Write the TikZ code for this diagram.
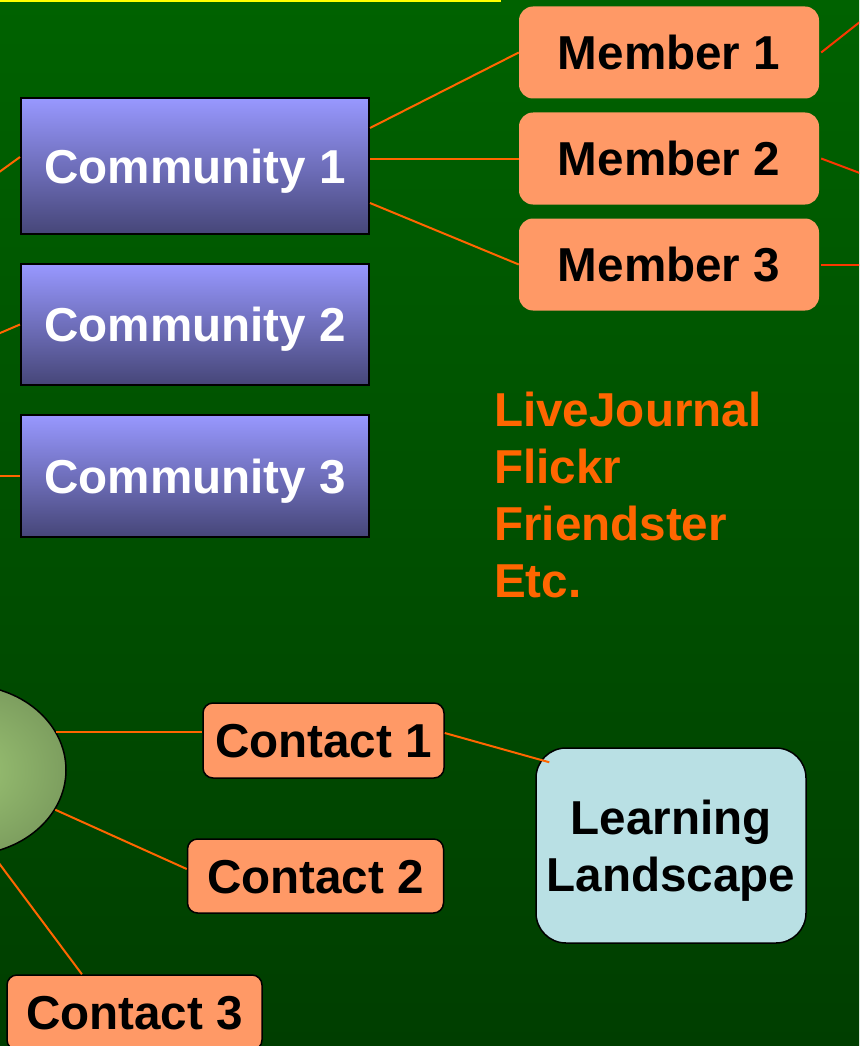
\documentclass[tikz,border=0pt]{standalone}
\usepackage{fontspec}
\setmainfont{Liberation Sans}
\usetikzlibrary{calc,shapes.geometric}
\definecolor{bgtop}{RGB}{0,98,0}
\definecolor{bgbot}{RGB}{0,62,0}
\definecolor{commtop}{RGB}{152,152,255}
\definecolor{commbot}{RGB}{70,70,120}
\definecolor{salmon}{RGB}{255,153,102}
\definecolor{llblue}{RGB}{185,224,228}
\definecolor{linkor}{RGB}{255,102,0}
\definecolor{linkred}{RGB}{250,55,0}
\definecolor{ellin}{RGB}{155,195,115}
\definecolor{ellout}{RGB}{95,122,75}
\definecolor{yel}{RGB}{255,255,0}
\pgfdeclareradialshading{ellshade}{\pgfpoint{0bp}{0bp}}{color(0bp)=(ellin); color(20bp)=(ellin!60!ellout); color(50bp)=(ellout)}
\begin{document}
\begin{tikzpicture}[x=1pt,y=-1pt,
  bigtext/.style={font=\fontsize{47.6}{57}\selectfont\bfseries},
  commbox/.style={bigtext, draw=black, line width=2pt, top color=commtop, bottom color=commbot,
    text=white, minimum width=348pt, inner sep=0pt, text height=34pt, text depth=0pt},
  memberbox/.style={bigtext, fill=salmon, rounded corners=14pt, text=black,
    minimum width=300pt, minimum height=92pt, inner sep=0pt, text height=34pt, text depth=0pt},
  contactbox/.style={bigtext, fill=salmon, draw=black, line width=1.5pt, rounded corners=10pt,
    text=black, inner sep=0pt, text height=34pt, text depth=0pt},
  llbox/.style={bigtext, fill=llblue, draw=black, line width=1.5pt, rounded corners=30pt,
    text=black, align=center, inner sep=0pt, minimum width=270pt, minimum height=195pt, text depth=0pt},
  hub/.style={ellipse, draw=black, line width=1.5pt, shading=ellshade,
    minimum width=200pt, minimum height=170pt, inner sep=0pt},
  link/.style={draw=linkor, line width=2pt},
  linkr/.style={draw=linkred, line width=2pt}
]
\clip (0,0) rectangle (859,1046);
\shade[top color=bgtop, bottom color=bgbot] (0,0) rectangle (859,1046);
\fill[yel] (0,0) rectangle (501,1.6);

% communities
\node[commbox, minimum height=136pt] (cm1) at (195,166) {Community 1};
\node[commbox, minimum height=121pt] (cm2) at (195,324.5) {Community 2};
\node[commbox, minimum height=122pt] (cm3) at (195,476) {Community 3};

% members
\node[memberbox] (m1) at (669,52.5) {Member 1};
\node[memberbox] (m2) at (669,158.5) {Member 2};
\node[memberbox] (m3) at (669,264.5) {Member 3};

% sites
\node[bigtext, text=linkor, align=left, anchor=north west, inner sep=0pt] (sites) at (494,392)
  {LiveJournal\\Flickr\\Friendster\\Etc.};

% hub and contacts
\node[hub] (hubn) at (-34,770) {};
\node[contactbox, minimum width=241pt, minimum height=75pt] (ct1) at (323.5,740.5) {Contact 1};
\node[contactbox, minimum width=256pt, minimum height=74pt] (ct2) at (315.5,876) {Contact 2};
\node[contactbox, minimum width=255pt, minimum height=75pt] (ct3) at (134.5,1012.5) {Contact 3};
\node[llbox] (ll) at (671,845.5) {Learning\\Landscape};

% free ends
\coordinate (in1) at (-20,186);
\coordinate (in2) at (-20,341.6);
\coordinate (in3) at (-20,476);
\coordinate (out1) at (875,10);
\coordinate (out2) at (885,182.5);
\coordinate (out3) at (885,264.5);

% connectors
\draw[link] (in1) -- ($(cm1.west)+(0,-9)$);
\draw[link] (in2) -- (cm2.west);
\draw[link] (in3) -- (cm3.west);
\draw[link] ($(cm1.east)+(0,-38)$) -- (m1.west);
\draw[link] (cm1.east |- m2.west) -- (m2.west);
\draw[link] ($(cm1.east)+(0,37)$) -- (m3.west);
\draw[linkr] ($(m1.east)+(2,0)$) -- (out1);
\draw[linkr] ($(m2.east)+(2,0)$) -- (out2);
\draw[linkr] ($(m3.east)+(2,0)$) -- (out3);
\draw[link] (hubn.23) -- (hubn.23 -| ct1.west);
\draw[link] (hubn.-24) -- ($(ct2.west)+(0,-7)$);
\draw[link] (hubn.-73) -- ($(ct3.north west)!0.295!(ct3.north east)$);
\draw[link] ($(ct1.east)+(0,-7.5)$) -- ($(ll.north west)+(14,15)$);
\end{tikzpicture}
\end{document}
